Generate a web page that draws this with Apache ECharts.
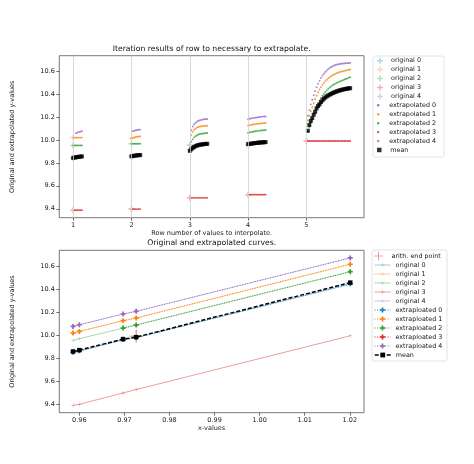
<!DOCTYPE html>
<html><head><meta charset="utf-8">
<script src="https://cdn.jsdelivr.net/npm/echarts@6/dist/echarts.min.js"></script>
<style>html,body{margin:0;padding:0;background:#fff}#c{width:474px;height:464px}</style>
</head><body><div id="c"></div>
<script>
// ---------------- DATA ----------------
// Top plot: row numbers and iteration step along x inside a row
const rowNumbers = [1, 2, 3, 4, 5];
const iterStep = 0.025;
const topXTicks = [1, 2, 3, 4, 5];
const yTicks = [9.4, 9.6, 9.8, 10.0, 10.2, 10.4, 10.6];
const bottomXTicks = [0.96, 0.97, 0.98, 0.99, 1.00, 1.01, 1.02];

// original values at each row (x = row number)
const origTop0 = [9.843, 9.857, 9.955, 9.963, null];
const origTop1 = [10.02, 10.015, null, null, null];
const origTop2 = [9.952, 9.966, null, null, null];
const origTop3 = [9.388, 9.397, 9.495, 9.523, 9.99];
const origTop4 = [null, null, null, null, null];

// extrapolation iterations per row
const extrap0Rows = [
  [9.842, 9.845, 9.848, 9.850, 9.852, 9.853, 9.854],
  [9.854, 9.857, 9.859, 9.861, 9.863, 9.864, 9.865],
  [9.900, 9.913, 9.925, 9.935, 9.942, 9.947, 9.951, 9.954, 9.957, 9.959, 9.961, 9.962, 9.963],
  [9.960, 9.962, 9.964, 9.966, 9.968, 9.970, 9.971, 9.973, 9.974, 9.975, 9.976, 9.977, 9.978],
  [null, 10.075, 10.125, 10.16, 10.185, 10.215, 10.24, 10.27, 10.29, 10.305, 10.325, 10.34, 10.355, 10.365, 10.375, 10.383, 10.39, 10.397, 10.403, 10.409, 10.414, 10.419, 10.423, 10.427, 10.431, 10.434, 10.437, 10.44, 10.442, 10.444, 10.446]
];
const extrap1Rows = [
  [10.02, 10.02, 10.02, 10.02, 10.02, 10.02, 10.02],
  [10.012, 10.018, 10.022, 10.025, 10.028, 10.030, 10.031],
  [null, 10.04, 10.07, 10.088, 10.10, 10.108, 10.113, 10.117, 10.119, 10.121, 10.122, 10.123, 10.124],
  [10.125, 10.128, 10.131, 10.134, 10.136, 10.138, 10.140, 10.141, 10.143, 10.144, 10.145, 10.146, 10.147],
  [null, 10.17, 10.21, 10.25, 10.285, 10.32, 10.355, 10.385, 10.415, 10.44, 10.46, 10.48, 10.497, 10.512, 10.525, 10.537, 10.547, 10.556, 10.564, 10.571, 10.577, 10.583, 10.588, 10.592, 10.596, 10.599, 10.602, 10.605, 10.608, 10.611, 10.614]
];
const extrap2Rows = [
  [9.952, 9.952, 9.952, 9.952, 9.952, 9.952, 9.952],
  [9.966, 9.966, 9.966, 9.966, 9.966, 9.966, 9.966],
  [null, 9.985, 10.005, 10.022, 10.033, 10.041, 10.047, 10.051, 10.054, 10.056, 10.058, 10.059, 10.06],
  [10.062, 10.065, 10.068, 10.071, 10.073, 10.075, 10.077, 10.079, 10.081, 10.082, 10.084, 10.085, 10.086],
  [null, 10.07, 10.11, 10.15, 10.19, 10.225, 10.26, 10.29, 10.317, 10.342, 10.365, 10.385, 10.402, 10.418, 10.432, 10.445, 10.457, 10.467, 10.476, 10.484, 10.491, 10.498, 10.504, 10.51, 10.515, 10.52, 10.526, 10.531, 10.536, 10.541, 10.546]
];
const extrap3Rows = [
  [null, 9.388, 9.388, 9.388, 9.388, 9.388, 9.388],
  [null, 9.397, 9.397, 9.397, 9.397, 9.397, 9.397],
  [null, 9.495, 9.495, 9.495, 9.495, 9.495, 9.495, 9.495, 9.495, 9.495, 9.495, 9.495, 9.495],
  [null, 9.523, 9.523, 9.523, 9.523, 9.523, 9.523, 9.523, 9.523, 9.523, 9.523, 9.523, 9.523],
  [null, 9.99, 9.99, 9.99, 9.99, 9.99, 9.99, 9.99, 9.99, 9.99, 9.99, 9.99, 9.99, 9.99, 9.99, 9.99, 9.99, 9.99, 9.99, 9.99, 9.99, 9.99, 9.99, 9.99, 9.99, 9.99, 9.99, 9.99, 9.99, 9.99, 9.99]
];
const extrap4Rows = [
  [null, null, 10.058, 10.064, 10.069, 10.072, 10.075],
  [null, 10.076, 10.080, 10.084, 10.087, 10.089, 10.090],
  [null, 10.085, 10.117, 10.137, 10.150, 10.160, 10.167, 10.172, 10.175, 10.178, 10.180, 10.181, 10.182],
  [10.180, 10.184, 10.187, 10.190, 10.192, 10.194, 10.196, 10.198, 10.200, 10.201, 10.203, 10.204, 10.205],
  [null, 10.21, 10.26, 10.31, 10.35, 10.39, 10.425, 10.46, 10.49, 10.515, 10.54, 10.56, 10.577, 10.592, 10.605, 10.617, 10.627, 10.635, 10.642, 10.648, 10.653, 10.657, 10.66, 10.662, 10.664, 10.666, 10.667, 10.668, 10.669, 10.67, 10.67]
];
const meanRows = [
  [9.843, 9.846, 9.849, 9.851, 9.853, 9.855, 9.856],
  [9.857, 9.860, 9.862, 9.864, 9.866, 9.867, 9.868],
  [9.905, 9.918, 9.930, 9.939, 9.946, 9.951, 9.955, 9.958, 9.960, 9.962, 9.964, 9.965, 9.966],
  [9.963, 9.965, 9.967, 9.969, 9.971, 9.973, 9.974, 9.976, 9.977, 9.978, 9.979, 9.980, 9.981],
  [null, 10.08, 10.13, 10.165, 10.19, 10.22, 10.245, 10.275, 10.295, 10.31, 10.33, 10.345, 10.36, 10.37, 10.38, 10.388, 10.395, 10.402, 10.408, 10.414, 10.419, 10.424, 10.428, 10.432, 10.436, 10.439, 10.442, 10.445, 10.447, 10.449, 10.451]
];

// Bottom plot
const xValues = [0.9586, 0.9600, 0.9697, 0.9726, 1.0201];
const curveOrig0 = [9.845, 9.858, 9.958, 9.975, 10.44];
const curveOrig1 = [10.016, 10.031, 10.124, 10.147, 10.615];
const curveOrig2 = [9.952, 9.967, 10.06, 10.086, 10.55];
const curveOrig3 = [9.388, 9.397, 9.496, 9.525, 9.993];
const curveOrig4 = [10.074, 10.089, 10.182, 10.205, 10.67];
const curveExtra0 = [9.85, 9.862, 9.96, 9.977, 10.445];
const curveExtra1 = [10.016, 10.031, 10.124, 10.147, 10.615];
const curveExtra2 = [null, null, 10.06, 10.086, 10.55];
const curveExtra3 = [null, null, null, null, null];
const curveExtra4 = [10.074, 10.089, 10.182, 10.205, 10.67];
const curveMean = [9.856, 9.868, 9.964, 9.981, 10.455];
const arithEndX = [0.9726];
const arithEndY = [9.99];

const topOrigNames = ['original 0','original 1','original 2','original 3','original 4'];
const topExtrapNames = ['extrapolated 0','extrapolated 1','extrapolated 2','extrapolated 3','extrapolated 4'];
const topMeanName = 'mean';
const botArithName = 'arith. end point';
const botOrigNames = ['original 0 ','original 1 ','original 2 ','original 3 ','original 4 '];
const botExtrapNames = ['extraploated 0','extraploated 1','extraploated 2','extraploated 3','extraploated 4'];
const botMeanName = 'mean ';

// ---------------- STYLE ----------------
const C = ['#1f77b4','#ff7f0e','#2ca02c','#d62728','#9467bd'];
const CL = ['rgba(31,119,180,0.4)','rgba(255,127,14,0.4)','rgba(44,160,44,0.4)','rgba(214,39,40,0.45)','rgba(148,103,189,0.4)'];
const THICK_PLUS = 'path://M-1,-4h2v3h3v2h-3v3h-2v-3h-3v-2h3z';
const FILLED_P = 'path://M-1,-3h2v2h2v2h-2v2h-2v-2h-2v-2h2z';
const THIN_PLUS = 'path://M-0.5,-4h1v3.5h3.5v1h-3.5v3.5h-1v-3.5h-3.5v-1h3.5z';
const HAIR_PLUS = 'path://M-0.6,-10h1.2v9.4h9.4v1.2h-9.4v9.4h-1.2v-9.4h-9.4v-1.2h9.4z';
const SQUARE = 'path://M0,0h1v1h-1z';
const FONT = 'DejaVu Sans';
const TXT = '#1a1a1a';

const G1 = {left: 59.3, top: 55.7, width: 304.7, height: 162};
const G2 = {left: 59.3, top: 250.3, width: 304.7, height: 162.4};

function rowsToPoints(rows) {
  const pts = [];
  rows.forEach((vals, r) => vals.forEach((v, j) => {
    if (v !== null) pts.push([rowNumbers[r] + j * iterStep, v]);
  }));
  return pts;
}
function origPoints(vals) {
  const pts = [];
  vals.forEach((v, k) => { if (v !== null) pts.push([rowNumbers[k], v]); });
  return pts;
}
function curvePoints(vals) {
  const pts = [];
  vals.forEach((v, k) => { if (v !== null) pts.push([xValues[k], v]); });
  return pts;
}

const origTop = [origTop0, origTop1, origTop2, origTop3, origTop4];
const extrapTop = [extrap0Rows, extrap1Rows, extrap2Rows, extrap3Rows, extrap4Rows];
const curveOrig = [curveOrig0, curveOrig1, curveOrig2, curveOrig3, curveOrig4];
const curveExtra = [curveExtra0, curveExtra1, curveExtra2, curveExtra3, curveExtra4];

const series = [];
series.push({
  type: 'line', xAxisIndex: 0, yAxisIndex: 0, data: [], silent: true, z: 1,
  markLine: {
    silent: true, symbol: ['none', 'none'], label: {show: false}, animation: false,
    lineStyle: {color: '#cfcfcf', width: 0.8, type: 'solid'},
    emphasis: {disabled: true},
    data: topXTicks.map(v => ({xAxis: v}))
  }
});
for (let i = 0; i < 5; i++) {
  series.push({name: topOrigNames[i], type: 'scatter', xAxisIndex: 0, yAxisIndex: 0, z: 2,
    symbol: THICK_PLUS, symbolSize: 6, itemStyle: {color: CL[i]}, data: origPoints(origTop[i])});
}
for (let i = 0; i < 5; i++) {
  series.push({name: topExtrapNames[i], type: 'scatter', xAxisIndex: 0, yAxisIndex: 0, z: 3,
    symbol: 'circle', symbolSize: 1.9, itemStyle: {color: C[i]}, data: rowsToPoints(extrapTop[i])});
}
series.push({name: topMeanName, type: 'scatter', xAxisIndex: 0, yAxisIndex: 0, z: 4,
  symbol: SQUARE, symbolSize: 4, itemStyle: {color: '#000'}, data: rowsToPoints(meanRows)});

series.push({name: botArithName, type: 'scatter', xAxisIndex: 1, yAxisIndex: 1, z: 2,
  symbol: HAIR_PLUS, symbolSize: 13, itemStyle: {color: C[3]},
  data: arithEndX.map((x, k) => [x, arithEndY[k]])});
for (let i = 0; i < 5; i++) {
  series.push({name: botOrigNames[i], type: 'line', xAxisIndex: 1, yAxisIndex: 1, z: 3,
    symbol: THIN_PLUS, symbolSize: 4, showSymbol: true,
    lineStyle: {color: CL[i], width: 1}, itemStyle: {color: CL[i]},
    data: curvePoints(curveOrig[i])});
}
for (let i = 0; i < 5; i++) {
  series.push({name: botExtrapNames[i], type: 'line', xAxisIndex: 1, yAxisIndex: 1, z: 4,
    symbol: FILLED_P, symbolSize: 5, showSymbol: true,
    lineStyle: {color: C[i], width: 1, type: [1, 1.6]}, itemStyle: {color: C[i]},
    data: curvePoints(curveExtra[i])});
}
series.push({name: botMeanName, type: 'line', xAxisIndex: 1, yAxisIndex: 1, z: 5,
  symbol: SQUARE, symbolSize: 4.5, showSymbol: true,
  lineStyle: {color: '#000', width: 1.5, type: [4, 2]}, itemStyle: {color: '#000'},
  data: curvePoints(curveMean)});

series.forEach(s => { s.emphasis = {disabled: true}; s.animation = false; });

function axisCommon(ticks, fmt, name, gap) {
  return {
    type: 'value', name: name, nameLocation: 'middle', nameGap: gap,
    nameTextStyle: {fontSize: 6.5, color: TXT, fontFamily: FONT},
    axisLine: {show: false}, splitLine: {show: false},
    axisTick: {show: true, customValues: ticks, length: 3, lineStyle: {color: '#333', width: 0.7}},
    axisLabel: {customValues: ticks, formatter: fmt, fontSize: 6.5, color: TXT, fontFamily: FONT, margin: 4.5}
  };
}

const legendText = {fontSize: 6.4, lineHeight: 8.93, color: TXT, fontFamily: FONT};
const legendText2 = {fontSize: 6.4, lineHeight: 9, color: TXT, fontFamily: FONT};
function lg(names, top, left, w, h, icon, ts, lw) {
  const o = {orient: 'vertical', left: left, top: top, itemWidth: w, itemHeight: h, itemGap: 0, padding: 0,
    selectedMode: false, textStyle: ts,
    data: names.map(n => icon ? {name: n, icon: icon} : {name: n})};
  if (lw) o.lineStyle = {width: lw};
  return o;
}

const option = {
  animation: false,
  grid: [
    Object.assign({show: true, borderColor: '#555', borderWidth: 0.8, backgroundColor: 'transparent'}, G1),
    Object.assign({show: true, borderColor: '#555', borderWidth: 0.8, backgroundColor: 'transparent'}, G2)
  ],
  xAxis: [
    Object.assign(axisCommon(topXTicks, v => String(v), 'Row number of values to interpolate.', 12), {gridIndex: 0, min: 0.7625, max: 5.9875}),
    Object.assign(axisCommon(bottomXTicks, v => v.toFixed(2), 'x-values', 12), {gridIndex: 1, min: 0.95555, max: 1.02315})
  ],
  yAxis: [
    Object.assign(axisCommon(yTicks, v => v.toFixed(1), 'Original and extrapolated y-values', 43), {gridIndex: 0, min: 9.322, max: 10.734}),
    Object.assign(axisCommon(yTicks, v => v.toFixed(1), 'Original and extrapolated y-values', 43), {gridIndex: 1, min: 9.324, max: 10.736})
  ],
  legend: [
    lg(topOrigNames, 56.2, 377, 12, 6, THICK_PLUS, legendText),
    lg(topExtrapNames, 56.2 + 5 * 8.93, 377, 12, 2.4, 'circle', legendText),
    lg([topMeanName], 56.2 + 10 * 8.93, 377, 12, 4.5, SQUARE, legendText),
    lg([botArithName], 251.5, 374, 16, 9, HAIR_PLUS, legendText2),
    lg(botOrigNames, 260.5, 374, 16, 5, null, legendText2, 1),
    lg(botExtrapNames, 305.5, 374, 16, 6.5, null, legendText2, 1),
    lg([botMeanName], 350.5, 374, 16, 6, null, legendText2, 1.5)
  ],
  graphic: [
    {type: 'rect', silent: true, z: -10, shape: {x: 373, y: 56, width: 71, height: 101, r: 2},
      style: {fill: '#fff', stroke: '#dddddd', lineWidth: 0.8}},
    {type: 'rect', silent: true, z: -10, shape: {x: 372, y: 250, width: 75, height: 111, r: 2},
      style: {fill: '#fff', stroke: '#dddddd', lineWidth: 0.8}},
    {type: 'text', silent: true, x: G1.left + G1.width / 2, y: 49,
      style: {text: 'Iteration results of row to necessary to extrapolate.', font: '7.7px "DejaVu Sans"', fill: '#111', align: 'center', verticalAlign: 'middle'}},
    {type: 'text', silent: true, x: G2.left + G2.width / 2, y: 243.5,
      style: {text: 'Original and extrapolated curves.', font: '7.7px "DejaVu Sans"', fill: '#111', align: 'center', verticalAlign: 'middle'}}
  ],
  series: series
};

const chart = echarts.init(document.getElementById('c'), null, {renderer: 'canvas'});
chart.setOption(option);
</script></body></html>
